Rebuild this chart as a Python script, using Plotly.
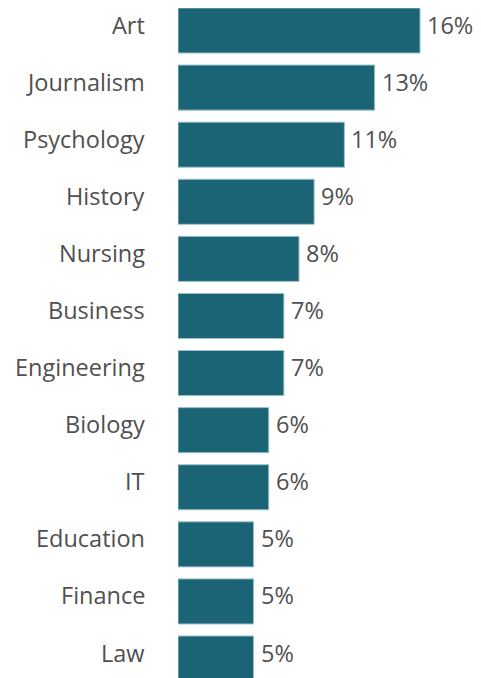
import plotly.graph_objects as go

majors = ["Art", "Journalism", "Psychology", "History", "Nursing", "Business",
          "Engineering", "Biology", "IT", "Education", "Finance", "Law"]
shares = [16, 13, 11, 9, 8, 7, 7, 6, 6, 5, 5, 5]
share_labels = [f"{v}%" for v in shares]

bar_color = "#1b6475"
text_color = "#505050"
font_family = "Open Sans, sans-serif"
label_font = dict(size=23.5, color=text_color, family=font_family)

fig = go.Figure(go.Bar(
    x=shares,
    y=majors,
    orientation="h",
    marker=dict(color=bar_color, line=dict(width=1, color="#9fc3cc")),
    width=0.79,
    hoverinfo="skip",
))

# category names on the left and percent labels past the bar ends,
# both sitting a little above the bar centre like in the original
for major, v, lab in zip(majors, shares, share_labels):
    fig.add_annotation(x=0, xref="paper", y=major, text=major, showarrow=False,
                       xanchor="right", xshift=-31, yshift=6, font=label_font)
    fig.add_annotation(x=v, y=major, text=lab, showarrow=False,
                       xanchor="left", xshift=5, yshift=6, font=label_font)

fig.update_yaxes(type="category", categoryorder="array", categoryarray=majors,
                 range=[11.341, -0.394], showgrid=False, showline=False,
                 showticklabels=False)
fig.update_xaxes(range=[0, 20.03], visible=False, showgrid=False)

# page body adds an 8px margin, so the figure is sized to fill the window
fig.update_layout(width=473, height=670,
                  margin=dict(l=170, r=0, t=0, b=0),
                  plot_bgcolor="white", paper_bgcolor="white",
                  showlegend=False)

fig.write_html("out.html")
